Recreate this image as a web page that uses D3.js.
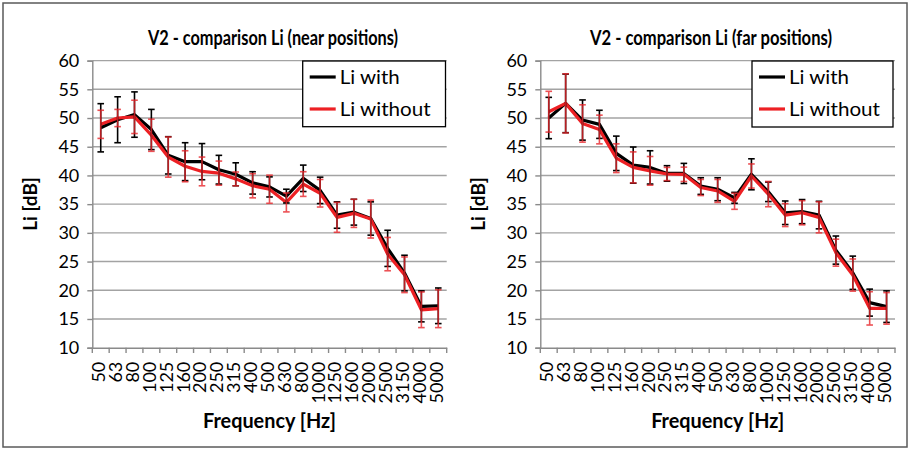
<!DOCTYPE html>
<html><head><meta charset="utf-8">
<script src="https://cdn.jsdelivr.net/npm/d3@7"></script>
<style>
html,body{margin:0;padding:0;background:#fff;}
svg{display:block;}
text{font-family:Lato,"Open Sans",sans-serif;fill:#000;}
</style></head><body>
<svg id="c" width="913" height="452"></svg>
<script>
// ---- data ----
const categories = ["50","63","80","100","125","160","200","250","315","400","500","630","800","1000","1250","1600","2000","2500","3150","4000","5000"];
const yTicks = [10,15,20,25,30,35,40,45,50,55,60];
const seriesNames = ["Li with","Li without"];

const nearWith      = [48.3,49.7,50.6,48.0,43.5,42.4,42.4,41.0,40.2,38.7,38.0,36.4,39.5,37.4,33.1,33.6,32.5,27.3,23.0,17.2,17.3];
const nearWithErr   = [4.2,4.0,3.95,3.5,3.25,3.3,3.15,2.5,2.0,1.95,1.75,1.2,2.3,2.3,2.3,2.25,2.9,3.15,3.1,2.7,3.1];
const nearWithout   = [48.9,50.0,50.2,47.0,43.2,41.6,40.7,40.4,39.4,38.2,37.6,35.3,38.5,36.9,32.7,33.4,32.4,26.3,22.7,16.6,16.8];
const nearWithoutErr= [2.45,1.5,2.9,2.8,3.5,2.7,2.5,2.1,1.2,2.1,2.45,1.65,2.15,2.4,2.6,2.45,3.3,2.9,3.1,3.1,3.3];

const farWith       = [50.0,52.55,49.65,48.9,43.85,41.8,41.4,40.35,40.35,38.15,37.6,36.1,40.2,37.15,33.5,33.7,33.1,27.0,23.05,17.85,17.15];
const farWithErr    = [3.6,5.1,3.5,2.45,3.0,3.15,2.9,1.35,1.75,1.45,2.0,0.95,2.7,1.7,2.05,2.1,2.4,2.45,2.9,2.35,2.75];
const farWithout    = [51.1,52.55,49.05,48.0,43.0,41.4,40.8,40.25,40.2,37.9,37.3,35.5,39.9,36.75,33.1,33.5,32.7,26.55,22.65,16.85,16.85];
const farWithoutErr = [3.55,5.15,3.25,2.5,2.5,2.7,2.5,1.15,1.25,1.4,2.0,1.4,2.1,2.2,2.0,2.1,2.7,2.35,2.8,2.9,2.75];

const svg = d3.select("#c");

// outer frame
svg.append("rect").attr("x",3).attr("y",3).attr("width",904).attr("height",444)
  .attr("fill","none").attr("stroke","#5a5a5a").attr("stroke-width",1.5);

function fitText(sel, w){
  sel.each(function(){
    const n=this.getComputedTextLength();
    if(n>0) d3.select(this).attr("textLength",w).attr("lengthAdjust","spacingAndGlyphs");
  });
}

function drawChart(cfg){
  const g = svg.append("g");
  const x = d3.scaleBand().domain(categories).range([cfg.x0,cfg.x1]).paddingInner(0).paddingOuter(0);
  const y = d3.scaleLinear().domain([10,60]).range([347.7,60.6]);
  const cx = d => x(d)+x.bandwidth()/2;

  // gridlines
  g.append("g").selectAll("line").data(yTicks.filter(t=>t>10)).join("line")
    .attr("x1",cfg.x0).attr("x2",cfg.x1).attr("y1",d=>y(d)).attr("y2",d=>y(d))
    .attr("stroke","#a3a3a3").attr("stroke-width",1.4);

  // y axis
  const ya = g.append("g").attr("transform",`translate(${cfg.x0},0)`)
    .call(d3.axisLeft(y).tickValues(yTicks).tickSize(5).tickPadding(8).tickFormat(d3.format("d")));
  ya.select(".domain").attr("stroke","#8a8a8a").attr("stroke-width",1.4);
  ya.selectAll(".tick line").attr("stroke","#8a8a8a").attr("stroke-width",1.4);
  ya.selectAll(".tick text").attr("font-size",18).attr("font-family","Lato").attr("fill","#000");

  // x axis
  const xa = g.append("g").attr("transform",`translate(0,347.7)`)
    .call(d3.axisBottom(x).tickSize(0).tickPadding(0));
  xa.select(".domain").attr("stroke","#8a8a8a").attr("stroke-width",1.4);
  xa.selectAll(".tick text")
    .attr("font-size",18).attr("font-family","Lato").attr("fill","#000")
    .attr("text-anchor","end")
    .attr("transform","translate(-2,14) rotate(-90)")
    .attr("x",0).attr("y",0).attr("dy","0.36em");
  // boundary ticks
  const bounds = categories.map(c=>x(c)).concat([cfg.x1]);
  g.append("g").selectAll("line").data(bounds).join("line")
    .attr("x1",d=>d).attr("x2",d=>d).attr("y1",347.7).attr("y2",353)
    .attr("stroke","#8a8a8a").attr("stroke-width",1.4);

  // series
  const series = [
    {vals:cfg.a, err:cfg.aErr, line:"#000000", bar:"#000000", barOp:1},
    {vals:cfg.b, err:cfg.bErr, line:"#ed2024", bar:"#e8262b", barOp:0.8}
  ];
  const lineGen = d3.line().x((d,i)=>cx(categories[i])).y(d=>y(d));
  series.forEach(s=>{
    g.append("path").datum(s.vals).attr("d",lineGen).attr("fill","none")
      .attr("stroke",s.line).attr("stroke-width",3.2).attr("stroke-linejoin","round");
  });
  series.forEach(s=>{
    const eg = g.append("g").attr("stroke",s.bar).attr("stroke-width",1.6).attr("opacity",s.barOp);
    s.vals.forEach((v,i)=>{
      const xx = cx(categories[i]);
      const t = y(v+s.err[i]), b = y(v-s.err[i]);
      eg.append("line").attr("x1",xx).attr("x2",xx).attr("y1",t).attr("y2",b);
      eg.append("line").attr("x1",xx-3.3).attr("x2",xx+3.3).attr("y1",t).attr("y2",t);
      eg.append("line").attr("x1",xx-3.3).attr("x2",xx+3.3).attr("y1",b).attr("y2",b);
    });
  });

  // legend
  const L = cfg.legend;
  g.append("rect").attr("x",L.x).attr("y",L.y).attr("width",L.w).attr("height",L.h)
    .attr("fill","#fff").attr("stroke","#000").attr("stroke-width",1.3);
  const legW = [60, 91];
  [["#000",0],["#ed2024",1]].forEach(([col,i])=>{
    const yy = L.y+16+i*32;
    g.append("line").attr("x1",L.x+7).attr("x2",L.x+33).attr("y1",yy).attr("y2",yy)
      .attr("stroke",col).attr("stroke-width",3.2);
    g.append("text").attr("x",L.x+37).attr("y",yy).attr("dy","0.36em")
      .attr("font-size",19).text(seriesNames[i]).call(fitText, legW[i]);
  });

  // titles
  g.append("text").attr("x",cfg.titleX).attr("y",45).attr("text-anchor","middle")
    .attr("font-size",21).attr("font-weight","bold").text(cfg.title)
    .call(fitText, cfg.titleW);
  g.append("text").attr("x",(cfg.x0+cfg.x1)/2).attr("y",428).attr("text-anchor","middle")
    .attr("font-size",20).attr("font-weight","bold").text("Frequency [Hz]")
    .call(fitText, 133);
  g.append("text").attr("transform",`translate(${cfg.yTitleX},204) rotate(-90)`)
    .attr("text-anchor","middle").attr("font-size",19).attr("font-weight","bold").text("Li [dB]");
}

drawChart({x0:92.3,x1:446.7,a:nearWith,aErr:nearWithErr,b:nearWithout,bErr:nearWithoutErr,
  title:"V2 - comparison Li (near positions)",titleX:273,titleW:250,yTitleX:37,
  legend:{x:302.7,y:61,w:142.8,h:65.7}});
drawChart({x0:540.3,x1:895,a:farWith,aErr:farWithErr,b:farWithout,bErr:farWithoutErr,
  title:"V2 - comparison Li (far positions)",titleX:711,titleW:242,yTitleX:485,
  legend:{x:752,y:61,w:141,h:66}});
</script>
</body></html>
